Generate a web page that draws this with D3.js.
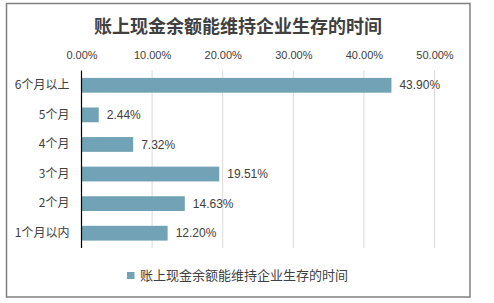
<!DOCTYPE html>
<html>
<head>
<meta charset="utf-8">
<script src="https://cdn.jsdelivr.net/npm/d3@7"></script>
<style>
  body { margin: 0; background: #fff; }
</style>
</head>
<body>
<div id="chart"></div>
<script>
// data
const categories = ["6个月以上", "5个月", "4个月", "3个月", "2个月", "1个月以内"];
const values = [43.90, 2.44, 7.32, 19.51, 14.63, 12.20];
const tickValues = [0, 10, 20, 30, 40, 50];
const title = "账上现金余额能维持企业生存的时间";

const width = 494, height = 303;
const barColor = "#72a2b5";
const cjk = "'Noto Sans CJK SC', sans-serif";
const latin = "'Liberation Sans', Arial, sans-serif";

const svg = d3.select("#chart").append("svg")
  .attr("width", width)
  .attr("height", height);

// outer frame
svg.append("rect")
  .attr("x", 6.5).attr("y", 3.5)
  .attr("width", 463.5).attr("height", 293.5)
  .attr("fill", "#fff")
  .attr("stroke", "#808080")
  .attr("stroke-width", 1.5);

svg.append("text")
  .attr("x", 238).attr("y", 27)
  .attr("dy", "0.35em")
  .attr("text-anchor", "middle")
  .style("font-family", cjk)
  .style("font-size", "18px")
  .style("font-weight", "bold")
  .attr("fill", "#404040")
  .text(title);

const x = d3.scaleLinear().domain([0, 50]).range([81.5, 434.5]);
const y = d3.scaleBand().domain(categories).range([70.5, 248]).paddingInner(0.5).paddingOuter(0.25);

// gridlines
svg.append("g")
  .selectAll("line")
  .data(tickValues.slice(1))
  .join("line")
  .attr("x1", d => x(d)).attr("x2", d => x(d))
  .attr("y1", 70.5).attr("y2", 248)
  .attr("stroke", "#d9d9d9")
  .attr("stroke-width", 1);

// top axis labels
const xAxis = svg.append("g")
  .attr("transform", "translate(0,55)")
  .call(d3.axisTop(x).tickValues(tickValues).tickSize(0).tickPadding(0).tickFormat(d => d.toFixed(2) + "%"));
xAxis.select(".domain").remove();
xAxis.selectAll("text")
  .attr("dy", "0.35em")
  .attr("fill", "#404040")
  .style("font-family", latin)
  .style("font-size", "11px");

// bars
svg.append("g")
  .selectAll("rect")
  .data(values)
  .join("rect")
  .attr("x", x(0))
  .attr("y", (d, i) => y(categories[i]))
  .attr("width", d => x(d) - x(0))
  .attr("height", y.bandwidth())
  .attr("fill", barColor);

// value labels
svg.append("g")
  .selectAll("text")
  .data(values)
  .join("text")
  .attr("x", d => x(d) + 8)
  .attr("y", (d, i) => y(categories[i]) + y.bandwidth() / 2)
  .attr("dy", "0.35em")
  .attr("fill", "#404040")
  .style("font-family", latin)
  .style("font-size", "12px")
  .text(d => d.toFixed(2) + "%");

// category axis
const yAxis = svg.append("g")
  .attr("transform", `translate(${x(0)},0)`)
  .call(d3.axisLeft(y).tickSize(0).tickPadding(12));
yAxis.select(".domain")
  .attr("stroke", "#000")
  .attr("stroke-width", 1.2)
  .attr("d", "M0,70.5V248");
yAxis.selectAll("text")
  .attr("fill", "#404040")
  .style("font-family", cjk)
  .style("font-size", "12px");

// legend
const legend = svg.append("g").attr("transform", "translate(127,272)");
legend.append("rect")
  .attr("width", 7.5).attr("height", 7)
  .attr("fill", barColor);
legend.append("text")
  .attr("x", 13).attr("y", 3.5)
  .attr("dy", "0.35em")
  .attr("fill", "#404040")
  .style("font-family", cjk)
  .style("font-size", "13px")
  .text(title);
</script>
</body>
</html>
